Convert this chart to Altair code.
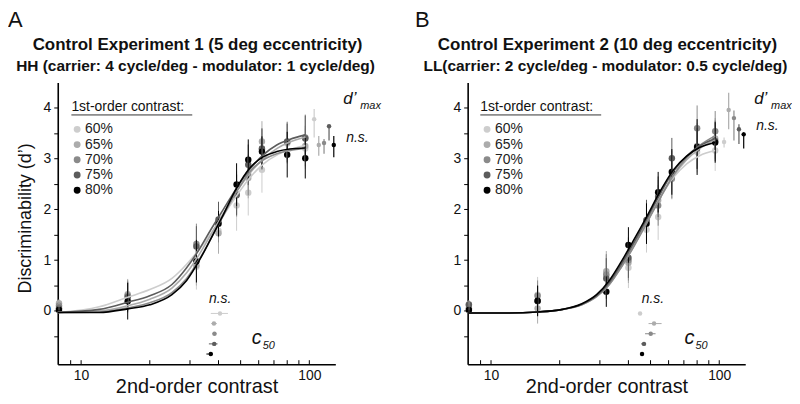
import altair as alt
import pandas as pd

FONT = "Liberation Sans"

series = ["60%", "65%", "70%", "75%", "80%"]
shades = ["#cdcdcd", "#acacac", "#8a8a8a", "#5c5c5c", "#000000"]

# stimulus contrasts (2nd-order)
contrast = [8, 16, 32, 40, 48, 54, 62, 80, 96]
x_ticks = [9, 10, 20, 30, 40, 50, 60, 70, 80, 90, 100]

# ---- Panel A data (d') ----
a_60 = [0.10, 0.30, 0.87, 1.58, 2.08, 2.33, 2.78, 3.30, 3.20]
a_65 = [0.15, 0.33, 0.90, 1.53, 2.30, 2.62, 3.34, 3.32, 3.25]
a_70 = [0.10, 0.30, 1.32, 1.75, 2.30, 2.68, 3.18, 3.33, 3.42]
a_75 = [0.05, 0.27, 1.27, 1.80, 2.28, 2.88, 3.20, 3.34, 3.40]
a_80 = [0.02, 0.19, 0.98, 1.72, 2.49, 2.98, 3.14, 3.08, 3.01]
a_60_err = [0.08, 0.30, 0.45, 0.45, 0.50, 0.45, 0.45, 0.40, 0.40]
a_65_err = [0.08, 0.30, 0.40, 0.40, 0.45, 0.40, 0.40, 0.40, 0.40]
a_70_err = [0.08, 0.30, 0.40, 0.40, 0.40, 0.40, 0.40, 0.40, 0.45]
a_75_err = [0.08, 0.30, 0.40, 0.35, 0.40, 0.40, 0.40, 0.35, 0.45]
a_80_err = [0.06, 0.36, 0.42, 0.25, 0.42, 0.40, 0.30, 0.45, 0.40]

# ---- Panel B data (d') ----
b_60 = [0.10, 0.32, 0.70, 0.85, 1.60, 1.85, 2.75, 3.13, 3.16]
b_65 = [0.13, 0.05, 0.78, 0.95, 1.75, 2.18, 2.60, 3.25, 3.40]
b_70 = [0.05, 0.30, 0.72, 1.00, 1.78, 2.08, 2.62, 3.60, 3.54]
b_75 = [0.12, 0.19, 0.64, 1.05, 1.79, 2.25, 3.01, 3.20, 3.35]
b_80 = [0.02, 0.20, 0.38, 1.30, 1.72, 2.34, 2.74, 3.23, 3.32]
b_60_err = [0.08, 0.35, 0.40, 0.40, 0.45, 0.45, 0.40, 0.40, 0.40]
b_65_err = [0.08, 0.30, 0.40, 0.40, 0.40, 0.40, 0.40, 0.45, 0.40]
b_70_err = [0.08, 0.30, 0.40, 0.40, 0.40, 0.40, 0.40, 0.45, 0.40]
b_75_err = [0.08, 0.30, 0.40, 0.40, 0.40, 0.40, 0.40, 0.40, 0.40]
b_80_err = [0.06, 0.30, 0.30, 0.35, 0.40, 0.40, 0.45, 0.55, 0.40]

# ---- fitted curves, read at these contrasts ----
fit_x = [7.9, 12, 16, 20, 25, 29, 33, 37, 42, 48, 55, 63, 72, 82, 96]
a_fit_60 = [-0.03, 0.08, 0.27, 0.42, 0.64, 0.92, 1.22, 1.52, 1.88, 2.27, 2.63, 2.90, 3.07, 3.18, 3.26]
a_fit_65 = [-0.03, 0.00, 0.10, 0.23, 0.45, 0.75, 1.12, 1.50, 1.92, 2.35, 2.72, 3.00, 3.20, 3.33, 3.43]
a_fit_70 = [-0.03, -0.02, 0.06, 0.16, 0.36, 0.64, 1.02, 1.42, 1.88, 2.35, 2.75, 2.98, 3.10, 3.16, 3.20]
a_fit_75 = [-0.03, 0.03, 0.17, 0.30, 0.52, 0.85, 1.22, 1.60, 2.00, 2.42, 2.80, 3.08, 3.27, 3.38, 3.47]
a_fit_80 = [-0.03, -0.03, 0.04, 0.12, 0.32, 0.60, 1.00, 1.42, 1.90, 2.42, 2.82, 3.04, 3.14, 3.19, 3.21]

b_fit_60 = [-0.04, -0.04, -0.02, 0.02, 0.13, 0.30, 0.57, 0.90, 1.32, 1.78, 2.25, 2.63, 2.90, 3.06, 3.16]
b_fit_65 = [-0.04, -0.04, -0.02, 0.02, 0.12, 0.28, 0.52, 0.85, 1.26, 1.73, 2.22, 2.66, 2.98, 3.20, 3.38]
b_fit_70 = [-0.04, -0.04, -0.02, 0.02, 0.12, 0.28, 0.52, 0.84, 1.25, 1.72, 2.22, 2.68, 3.02, 3.26, 3.45]
b_fit_75 = [-0.04, -0.04, -0.02, 0.02, 0.13, 0.30, 0.56, 0.90, 1.32, 1.80, 2.30, 2.75, 3.05, 3.25, 3.40]
b_fit_80 = [-0.04, -0.04, -0.02, 0.02, 0.14, 0.32, 0.60, 0.95, 1.38, 1.85, 2.35, 2.78, 3.05, 3.22, 3.32]

# ---- c50 estimates (with range) ----
c50_row = [-0.05, -0.25, -0.45, -0.65, -0.85]
a_c50 = [40.6, 38.2, 38.4, 38.3, 37.0]
a_c50_lo = [37.0, 37.2, 37.6, 36.3, 35.4]
a_c50_hi = [44.0, 39.3, 39.2, 39.6, 37.8]
b_c50 = [45.0, 51.8, 50.1, 46.8, 45.9]
b_c50_lo = [44.6, 49.0, 47.3, 45.5, 45.0]
b_c50_hi = [45.4, 55.9, 52.6, 47.8, 46.6]

# ---- d'max estimates (with range) ----
dmax_x = [105, 110, 116, 122, 128]
a_dmax = [3.78, 3.27, 3.31, 3.64, 3.27]
a_dmax_lo = [3.42, 3.06, 3.10, 3.36, 3.03]
a_dmax_hi = [3.98, 3.45, 3.39, 3.66, 3.45]
b_dmax = [3.33, 3.96, 3.80, 3.58, 3.48]
b_dmax_lo = [3.22, 3.58, 3.36, 3.29, 3.20]
b_dmax_hi = [3.42, 4.30, 3.95, 3.68, 3.52]

titles_a = ["Control Experiment 1 (5 deg eccentricity)",
            "HH (carrier: 4 cycle/deg - modulator: 1 cycle/deg)"]
titles_b = ["Control Experiment 2 (10 deg eccentricity)",
            "LL(carrier: 2 cycle/deg - modulator: 0.5 cycle/deg)"]

W, H = 279, 283
xscale = alt.Scale(type="log", domain=[7.9, 130], nice=False)
yscale = alt.Scale(domain=[-1.05, 4.5], nice=False, zero=False)


def obs_df(vals, errs):
    rows = []
    for s, v, e in zip(series, vals, errs):
        for x, y, er in zip(contrast, v, e):
            rows.append(dict(series=s, x=x, y=y, lo=y - er, hi=y + er))
    return pd.DataFrame(rows)


def fit_df(fits):
    rows = []
    for s, f in zip(series, fits):
        for x, y in zip(fit_x, f):
            rows.append(dict(series=s, x=x, y=y))
    return pd.DataFrame(rows)


def est_df(xs, los, his, ys):
    return pd.DataFrame(dict(series=series, x=xs, lo=los, hi=his, y=ys))


def panel(letter, titles, obs, fits, c50, dmx, ytitle, lay):
    cnone = alt.Color("series:N", scale=alt.Scale(domain=series, range=shades), legend=None)
    fleg = alt.Fill(
        "series:N", scale=alt.Scale(domain=series, range=shades),
        legend=alt.Legend(title=None, orient="none", legendX=lay["lx"], legendY=lay["ly"],
                          symbolType="circle", symbolSize=48, symbolStrokeWidth=0,
                          symbolOpacity=1, labelFont=FONT, labelFontSize=14,
                          labelColor="#222", labelOffset=lay["lo"], rowPadding=1.3,
                          padding=0))
    xax = alt.Axis(values=x_ticks,
                   labelExpr="datum.value == 10 ? '10' : (datum.value == 100 ? '100' : '')",
                   title="2nd-order contrast", titleFontSize=20, titleFontWeight="normal",
                   titleY=28, titleBaseline="alphabetic", titleColor="#111",
                   labelFontSize=14, labelPadding=4, labelColor="#111", ticks=False,
                   domainColor="#000", domainWidth=1.6, grid=False,
                   labelFont=FONT, titleFont=FONT)
    yargs = dict(values=[-0.5, 0, 0.5, 1, 1.5, 2, 2.5, 3, 3.5, 4],
                 labelExpr="abs(datum.value - round(datum.value)) < 0.01 ? format(datum.value, 'd') : ''",
                 labelFontSize=14, labelPadding=3, labelColor="#111", tickSize=4,
                 tickColor="#000", domainColor="#000", domainWidth=1.6, grid=False,
                 labelFont=FONT, titleFont=FONT)
    if ytitle:
        yax = alt.Axis(title=ytitle, titleFontSize=18, titleFontWeight="normal",
                       titleX=-32, titleY=136, titleAlign="center", titleBaseline="middle",
                       titleColor="#111", **yargs)
    else:
        yax = alt.Axis(title=None, **yargs)

    X = alt.X("x:Q", scale=xscale, axis=xax)
    Y = alt.Y("y:Q", scale=yscale, axis=yax)
    Xlo = alt.X("lo:Q", scale=xscale, axis=xax)
    Ylo = alt.Y("lo:Q", scale=yscale, axis=yax)

    bars = alt.Chart(obs).mark_rule(strokeWidth=1).encode(
        x=X, y=Ylo, y2="hi:Q", color=cnone)
    curves = alt.Chart(fits).mark_line(interpolate="monotone", strokeWidth=1.6).encode(
        x=X, y=Y, color=cnone, detail="series:N")
    dots = alt.Chart(obs).mark_circle(size=42, opacity=1).encode(x=X, y=Y, fill=fleg)

    c50_bars = alt.Chart(c50).mark_rule(strokeWidth=1).encode(
        x=Xlo, x2="hi:Q", y=Y, color=cnone)
    c50_dots = alt.Chart(c50).mark_circle(size=20, opacity=1).encode(x=X, y=Y, color=cnone)
    dm_bars = alt.Chart(dmx).mark_rule(strokeWidth=1.2).encode(
        x=X, y=Ylo, y2="hi:Q", color=cnone)
    dm_dots = alt.Chart(dmx).mark_circle(size=20, opacity=1).encode(x=X, y=Y, color=cnone)

    # inward-pointing x-axis ticks
    xt = alt.Chart(pd.DataFrame({"x": x_ticks})).mark_rule(strokeWidth=1, color="#000").encode(
        x=X, y=alt.value(H), y2=alt.value(H - 4))

    def txt(t, x, y, size, italic=False, align="left", baseline="alphabetic", bold=False):
        return alt.Chart(pd.DataFrame({"t": [t]})).mark_text(
            font=FONT, fontSize=size, fontStyle="italic" if italic else "normal",
            fontWeight="bold" if bold else "normal",
            align=align, baseline=baseline, color="#111").encode(
            x=alt.value(x), y=alt.value(y), text="t:N")

    texts = [
        txt(letter, lay["letter_x"], -73, 22, baseline="top"),
        txt(titles[0], W / 2 + 1, -38, 17, align="center", baseline="middle", bold=True),
        txt(titles[1], W / 2 - 1, -17, 15.5, align="center", baseline="middle", bold=True),
        txt("1st-order contrast:", lay["tx"], 25, 14, baseline="middle"),
        txt("d\u2019", lay["dx"], 21.5, 17, italic=True),
        txt("max", lay["dx"] + 17, 27, 11, italic=True),
        txt("n.s.", lay["nsx"], lay["nsy"], 14, italic=True),
        txt("n.s.", lay["ns2x"], 221.5, 14, italic=True),
        txt("c", lay["cx"], 263, 20, italic=True),
        txt("50", lay["cx"] + 11, 268, 11, italic=True),
    ]
    underline = alt.Chart(pd.DataFrame({"a": [0]})).mark_rule(strokeWidth=1, color="#333").encode(
        x=alt.value(lay["tx"]), x2=alt.value(lay["tx"] + 121.5), y=alt.value(32.5))

    return alt.layer(dots, bars, curves, c50_bars, c50_dots, dm_bars, dm_dots, xt,
                     underline, *texts).properties(width=W, height=H)


lay_a = dict(letter_x=-50, lx=12.5, ly=40, lo=1, tx=13.7, dx=287, nsx=290, nsy=60,
             ns2x=152, cx=195)
lay_b = dict(letter_x=-53, lx=12.5, ly=40, lo=1, tx=12.7, dx=288, nsx=290, nsy=48,
             ns2x=175, cx=218)

pa = panel("A", titles_a,
           obs_df([a_60, a_65, a_70, a_75, a_80], [a_60_err, a_65_err, a_70_err, a_75_err, a_80_err]),
           fit_df([a_fit_60, a_fit_65, a_fit_70, a_fit_75, a_fit_80]),
           est_df(a_c50, a_c50_lo, a_c50_hi, c50_row),
           est_df(dmax_x, a_dmax_lo, a_dmax_hi, a_dmax),
           "Discriminability (d\u2019)", lay_a)
pb = panel("B", titles_b,
           obs_df([b_60, b_65, b_70, b_75, b_80], [b_60_err, b_65_err, b_70_err, b_75_err, b_80_err]),
           fit_df([b_fit_60, b_fit_65, b_fit_70, b_fit_75, b_fit_80]),
           est_df(b_c50, b_c50_lo, b_c50_hi, c50_row),
           est_df(dmax_x, b_dmax_lo, b_dmax_hi, b_dmax),
           None, lay_b)

chart = alt.hconcat(pa, pb, spacing=133, bounds="flush").resolve_scale(
    color="independent", fill="independent").properties(
    padding={"left": 0, "top": 0, "right": 0, "bottom": 0}).configure_view(stroke=None)

chart.save("out.html", embed_options={"renderer": "svg", "actions": False})
